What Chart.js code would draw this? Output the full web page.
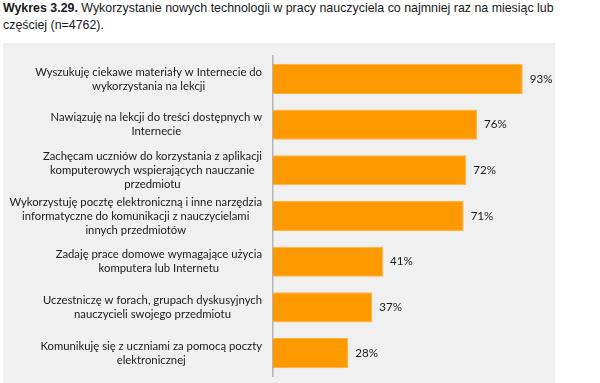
<!DOCTYPE html>
<html>
<head>
<meta charset="utf-8">
<script src="https://cdn.jsdelivr.net/npm/chart.js@4/dist/chart.umd.min.js"></script>
<style>
  html, body { margin: 0; padding: 0; background: #ffffff; }
  #wrap { position: relative; width: 600px; height: 383px; overflow: hidden; }
  #title { position: absolute; left: 3px; top: 0px; width: 580px;
    font-family: "Liberation Sans", Arial, sans-serif; font-size: 12.4px; line-height: 17px; color: #1a1a1a; }
  #title b { font-weight: bold; }
  #panel { position: absolute; left: 3px; top: 43px; width: 552px; height: 340px; background: #f0f0f0; }
  canvas { display: block; }
</style>
</head>
<body>
<div id="wrap">
  <div id="title"><b>Wykres 3.29.</b> Wykorzystanie nowych technologii w pracy nauczyciela co najmniej raz na miesiąc lub<br>częściej (n=4762).</div>
  <div id="panel"><canvas id="c" width="552" height="340"></canvas></div>
</div>
<script>
const categories = [
  ["Wyszukuję ciekawe materiały w Internecie do", "wykorzystania na lekcji"],
  ["Nawiązuję na lekcji do treści dostępnych w", "Internecie"],
  ["Zachęcam uczniów do korzystania z aplikacji", "komputerowych wspierających nauczanie", "przedmiotu"],
  ["Wykorzystuję pocztę elektroniczną i inne narzędzia", "informatyczne do komunikacji z nauczycielami", "innych przedmiotów"],
  ["Zadaję prace domowe wymagające użycia", "komputera lub Internetu"],
  ["Uczestniczę w forach, grupach dyskusyjnych", "nauczycieli swojego przedmiotu"],
  ["Komunikuję się z uczniami za pomocą poczty", "elektronicznej"]
];
const values = [93, 76, 72, 71, 41, 37, 28];
const valueSuffix = "%";

const LABEL_FONT = '11.3px Lato, "Open Sans", sans-serif';
const VALUE_FONT = '11.6px Lato, "Open Sans", sans-serif';
const TEXT_COLOR = '#1a1a1a';

const labelPlugin = {
  id: 'labelPlugin',
  afterDraw(chart) {
    const ctx = chart.ctx;
    const yScale = chart.scales.y;
    ctx.save();
    ctx.font = LABEL_FONT;
    ctx.fillStyle = TEXT_COLOR;
    ctx.textBaseline = 'middle';
    const lineH = 14;
    const rightEdge = yScale.right - 11;
    categories.forEach((lines, i) => {
      const yc = yScale.getPixelForTick(i);
      let widest = 0;
      lines.forEach(l => { widest = Math.max(widest, ctx.measureText(l).width); });
      const cx = rightEdge - widest / 2;
      ctx.textAlign = 'center';
      const y0 = yc - (lines.length - 1) * lineH / 2;
      lines.forEach((l, k) => ctx.fillText(l, cx, y0 + k * lineH));
    });
    const meta = chart.getDatasetMeta(0);
    ctx.font = VALUE_FONT;
    ctx.textAlign = 'left';
    meta.data.forEach((bar, i) => {
      ctx.fillText(values[i] + valueSuffix, bar.x + 7, bar.y);
    });
    ctx.restore();
  }
};

new Chart(document.getElementById('c'), {
  type: 'bar',
  data: {
    labels: categories,
    datasets: [{
      data: values,
      backgroundColor: '#ff9900',
      borderColor: '#ffb040',
      borderWidth: 1,
      borderSkipped: 'left',
      barPercentage: 0.66,
      categoryPercentage: 1.0
    }]
  },
  options: {
    indexAxis: 'y',
    responsive: false,
    animation: false,
    devicePixelRatio: 1,
    layout: { padding: { top: 13, bottom: 7, right: 13.5, left: 0 } },
    plugins: { legend: { display: false }, tooltip: { enabled: false } },
    scales: {
      x: { display: false, min: 0, max: 100 },
      y: {
        grid: { display: true, drawOnChartArea: false, drawTicks: false },
        border: { display: true, color: '#b4b4b4', width: 1.5 },
        ticks: { display: false },
        afterFit(scale) { scale.width = 270; }
      }
    }
  },
  plugins: [labelPlugin]
});
</script>
</body>
</html>
